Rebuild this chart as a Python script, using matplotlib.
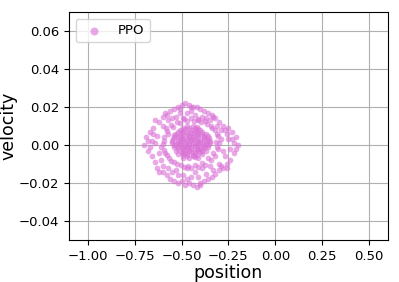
import numpy as np
from matplotlib import pyplot as plt

# dense core of the state cloud (position, velocity)
core_pos = [-0.49, -0.46, -0.43, -0.41,
            -0.52, -0.50, -0.47, -0.45, -0.42, -0.39,
            -0.54, -0.51, -0.49, -0.46, -0.44, -0.41, -0.38, -0.36,
            -0.545, -0.52, -0.50, -0.47, -0.45, -0.43, -0.40, -0.38, -0.36,
            -0.55, -0.53, -0.51, -0.48, -0.46, -0.44, -0.42, -0.39, -0.37, -0.35,
            -0.54, -0.52, -0.49, -0.47, -0.45, -0.43, -0.40, -0.38, -0.36,
            -0.53, -0.50, -0.48, -0.46, -0.43, -0.41, -0.39, -0.37,
            -0.52, -0.49, -0.47, -0.44, -0.42, -0.39,
            -0.49, -0.46, -0.43, -0.41,
            -0.47, -0.44, -0.42,
            -0.51, -0.48, -0.45, -0.43, -0.40,
            -0.53, -0.50, -0.47, -0.44, -0.42, -0.39, -0.37,
            -0.54, -0.52, -0.49, -0.46, -0.44, -0.41, -0.38, -0.355,
            -0.55, -0.52, -0.50, -0.47, -0.45, -0.42, -0.40, -0.37, -0.35,
            -0.54, -0.51, -0.48, -0.46, -0.43, -0.41, -0.38, -0.36,
            -0.52, -0.50, -0.47, -0.45, -0.42, -0.40, -0.38,
            -0.50, -0.48, -0.45, -0.43, -0.40,
            -0.47, -0.44]
core_vel = [0.0092, 0.0088, 0.0091, 0.0087,
            0.0068, 0.0072, 0.0070, 0.0066, 0.0071, 0.0069,
            0.0051, 0.0048, 0.0053, 0.0050, 0.0047, 0.0052, 0.0049, 0.0046,
            0.0031, 0.0028, 0.0033, 0.0030, 0.0027, 0.0032, 0.0029, 0.0031, 0.0027,
            0.0011, 0.0008, 0.0013, 0.0010, 0.0007, 0.0012, 0.0009, 0.0011, 0.0008, 0.0010,
            -0.0009, -0.0012, -0.0008, -0.0011, -0.0010, -0.0007, -0.0012, -0.0009, -0.0011,
            -0.0029, -0.0032, -0.0028, -0.0031, -0.0030, -0.0027, -0.0033, -0.0029,
            -0.0049, -0.0052, -0.0048, -0.0051, -0.0050, -0.0047,
            -0.0066, -0.0069, -0.0065, -0.0068,
            0.0100, 0.0098, 0.0097,
            0.0080, 0.0082, 0.0079, 0.0081, 0.0078,
            0.0060, 0.0062, 0.0059, 0.0061, 0.0058, 0.0060, 0.0057,
            0.0040, 0.0042, 0.0039, 0.0041, 0.0038, 0.0040, 0.0043, 0.0039,
            0.0020, 0.0018, 0.0021, 0.0019, 0.0022, 0.0020, 0.0017, 0.0021, 0.0019,
            0.0000, -0.0002, 0.0001, -0.0001, 0.0002, 0.0000, -0.0002, 0.0001,
            -0.0020, -0.0018, -0.0021, -0.0019, -0.0022, -0.0020, -0.0018,
            -0.0040, -0.0042, -0.0039, -0.0041, -0.0038,
            -0.0058, -0.0056]

# middle ring around the core
mid_pos = [-0.300, -0.305, -0.320, -0.344, -0.375, -0.411, -0.450, -0.489,
           -0.525, -0.556, -0.580, -0.595, -0.600, -0.595, -0.580, -0.556,
           -0.525, -0.489, -0.450, -0.411, -0.375, -0.344, -0.320, -0.305,
           -0.290, -0.312, -0.335, -0.362, -0.395, -0.432, -0.470, -0.508,
           -0.545, -0.572, -0.592, -0.610, -0.588, -0.566, -0.540, -0.505,
           -0.468, -0.430, -0.392, -0.358, -0.330, -0.312, -0.318, -0.585]
mid_vel = [0.0010, 0.0046, 0.0078, 0.0100, 0.0125, 0.0135, 0.0142, 0.0138,
           0.0120, 0.0104, 0.0072, 0.0040, 0.0008, -0.0026, -0.0053, -0.0084,
           -0.0101, -0.0118, -0.0122, -0.0114, -0.0105, -0.0080, -0.0057, -0.0022,
           0.0030, 0.0060, 0.0088, 0.0112, 0.0122, 0.0128, 0.0126, 0.0114,
           0.0093, 0.0058, 0.0022, -0.0010, -0.0040, -0.0068, -0.0090, -0.0107,
           -0.0108, -0.0104, -0.0094, -0.0070, -0.0043, -0.0010, 0.0018, 0.0090]

# outer spiral arms
ring_pos = [-0.62, -0.60, -0.58, -0.56, -0.54, -0.52, -0.50, -0.48, -0.46,
            -0.44, -0.42, -0.40, -0.38, -0.36, -0.34, -0.32, -0.30, -0.28,
            -0.60, -0.57, -0.53, -0.51, -0.47, -0.43, -0.39, -0.35, -0.31,
            -0.29, -0.55, -0.45, -0.37, -0.49, -0.41,
            -0.70, -0.69, -0.68, -0.67, -0.66, -0.65, -0.64, -0.66, -0.63,
            -0.62, -0.64, -0.61, -0.60, -0.63, -0.68, -0.65, -0.67,
            -0.20, -0.21, -0.22, -0.23, -0.24, -0.25, -0.26, -0.22, -0.25,
            -0.27, -0.26, -0.28, -0.24, -0.21, -0.23, -0.27,
            -0.60, -0.58, -0.56, -0.54, -0.52, -0.50, -0.48, -0.46, -0.44,
            -0.42, -0.40, -0.38, -0.36, -0.34, -0.32, -0.30, -0.28,
            -0.57, -0.55, -0.52, -0.49, -0.45, -0.41, -0.37, -0.33, -0.30,
            -0.53, -0.43, -0.35, -0.47, -0.39,
            -0.64, -0.59, -0.51, -0.45, -0.33, -0.29, -0.26, -0.62, -0.47, -0.40]
ring_vel = [0.012, 0.015, 0.016, 0.018, 0.019, 0.020, 0.021, 0.022, 0.021,
            0.020, 0.020, 0.019, 0.018, 0.017, 0.016, 0.014, 0.012, 0.010,
            0.010, 0.013, 0.015, 0.017, 0.017, 0.016, 0.015, 0.013, 0.010,
            0.008, 0.014, 0.018, 0.014, 0.014, 0.013,
            0.000, 0.004, -0.003, 0.007, -0.006, 0.009, -0.009, 0.002, 0.005,
            -0.004, 0.001, -0.008, -0.011, -0.012, 0.002, 0.006, -0.001,
            0.000, 0.004, -0.004, 0.007, -0.008, 0.009, -0.010, 0.001, 0.003,
            -0.006, 0.006, -0.003, -0.002, -0.002, 0.003, 0.008,
            -0.014, -0.016, -0.018, -0.019, -0.020, -0.019, -0.021, -0.020, -0.021,
            -0.022, -0.021, -0.019, -0.018, -0.017, -0.015, -0.013, -0.012,
            -0.012, -0.014, -0.016, -0.016, -0.017, -0.017, -0.015, -0.013, -0.010,
            -0.013, -0.014, -0.011, -0.012, -0.012,
            0.013, 0.017, 0.019, 0.020, 0.015, -0.011, -0.012, -0.014, -0.018, -0.020]

xticks = [-1.00, -0.75, -0.50, -0.25, 0.00, 0.25, 0.50]
yticks = [-0.04, -0.02, 0.00, 0.02, 0.04, 0.06]

pos = np.array(core_pos + mid_pos + ring_pos)
vel = np.array(core_vel + mid_vel + ring_vel)

fig = plt.figure(figsize=(3.99, 2.82), dpi=100)
ax = fig.add_axes([0.173, 0.149, 0.799, 0.808])
ax.scatter(pos, vel, s=17, color="orchid", alpha=0.6, linewidths=0, label="PPO")
ax.set_xlim(-1.1, 0.6)
ax.set_ylim(-0.05, 0.07)
ax.set_xticks(xticks)
ax.set_yticks(yticks)
ax.tick_params(labelsize=9.5)
ax.grid(True, color="#b0b0b0", linewidth=0.8)
ax.set_axisbelow(True)
ax.set_xlabel("position", fontsize=12.5, labelpad=1)
ax.set_ylabel("velocity", fontsize=12.5, labelpad=1)
ax.legend(loc="upper left", fontsize=9.5, markerscale=1.4)
fig.savefig("out.png", dpi=100)
